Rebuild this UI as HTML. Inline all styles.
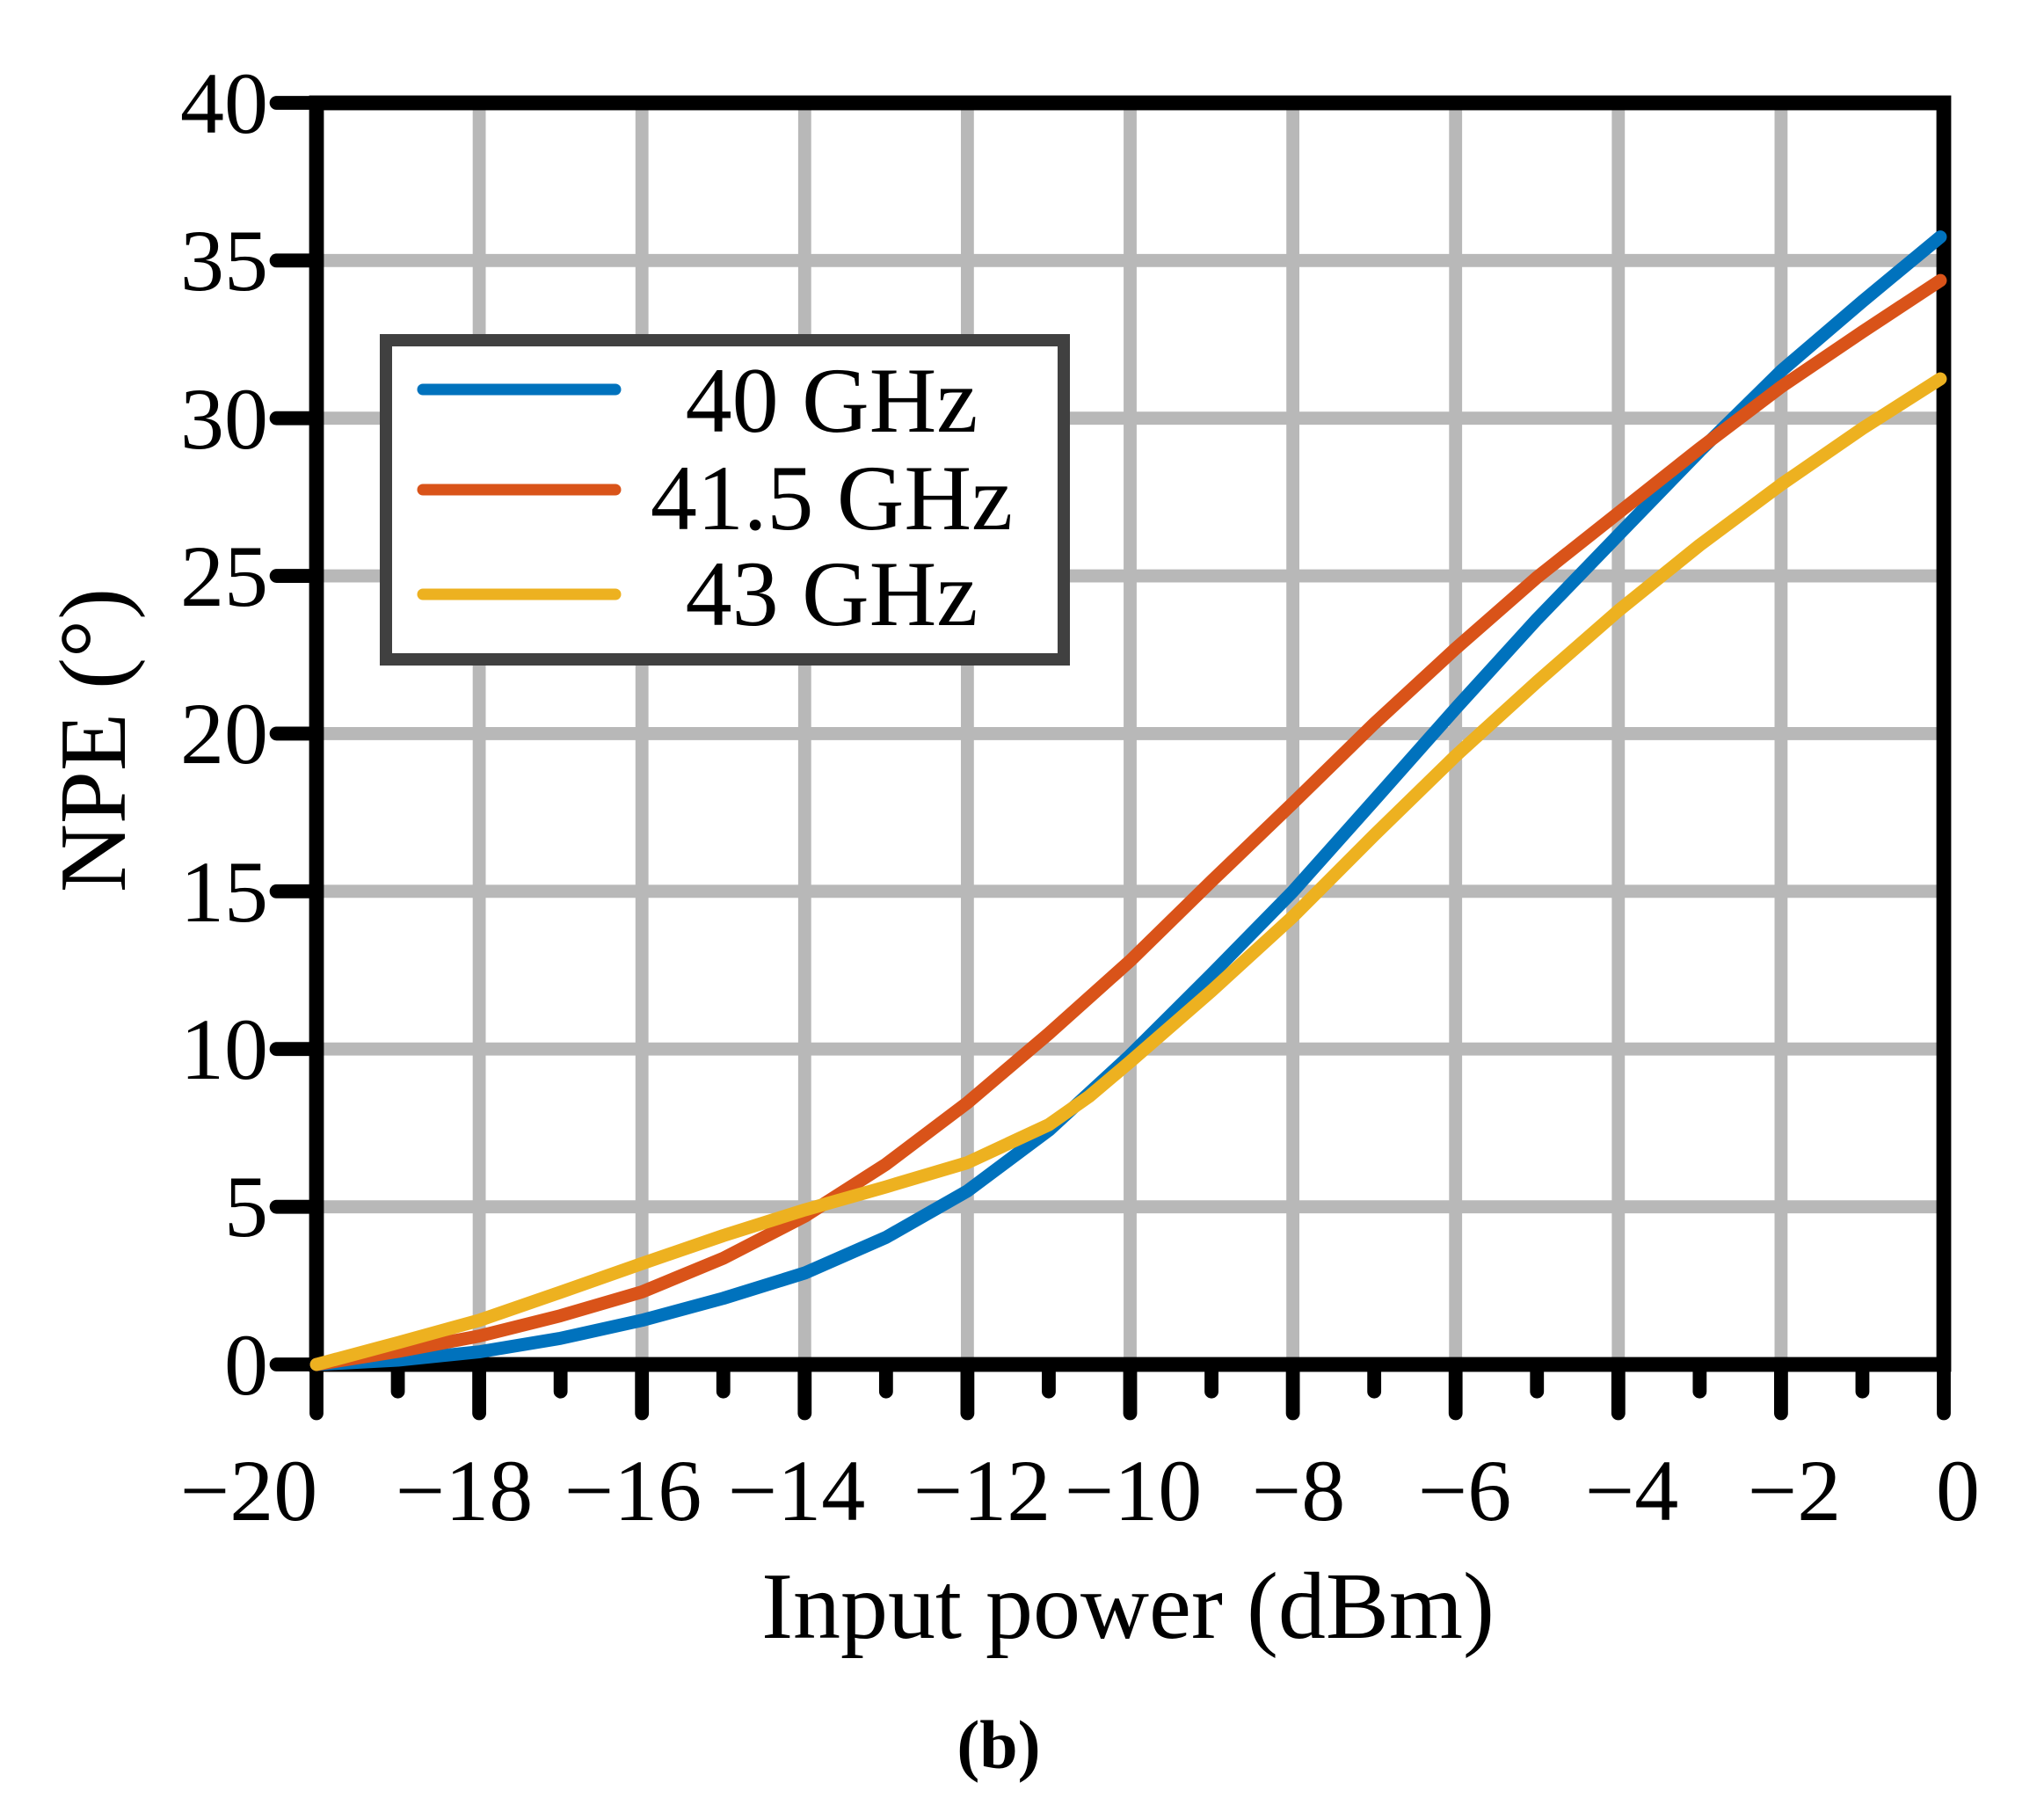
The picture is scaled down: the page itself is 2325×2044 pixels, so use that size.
<!DOCTYPE html>
<html><head><meta charset="utf-8"><style>
html,body{margin:0;padding:0;background:#fff;}
svg{display:block;}
text{font-family:"Liberation Serif",serif;fill:#000;}
</style></head><body>
<svg width="2325" height="2044" viewBox="0 0 2325 2044" xmlns="http://www.w3.org/2000/svg">
<g transform="translate(360,117) scale(0.98773,0.99034) translate(-360,-117)">
<g stroke="#b8b8b8" stroke-width="15">
<line x1="547.4" y1="117" x2="547.4" y2="1566"/>
<line x1="734.8" y1="117" x2="734.8" y2="1566"/>
<line x1="922.2" y1="117" x2="922.2" y2="1566"/>
<line x1="1109.6" y1="117" x2="1109.6" y2="1566"/>
<line x1="1297" y1="117" x2="1297" y2="1566"/>
<line x1="1484.4" y1="117" x2="1484.4" y2="1566"/>
<line x1="1671.8" y1="117" x2="1671.8" y2="1566"/>
<line x1="1859.2" y1="117" x2="1859.2" y2="1566"/>
<line x1="2046.6" y1="117" x2="2046.6" y2="1566"/>
<line x1="360" y1="298.1" x2="2234" y2="298.1"/>
<line x1="360" y1="479.2" x2="2234" y2="479.2"/>
<line x1="360" y1="660.3" x2="2234" y2="660.3"/>
<line x1="360" y1="841.4" x2="2234" y2="841.4"/>
<line x1="360" y1="1022.6" x2="2234" y2="1022.6"/>
<line x1="360" y1="1203.7" x2="2234" y2="1203.7"/>
<line x1="360" y1="1384.9" x2="2234" y2="1384.9"/>
</g>
<g stroke="#000" stroke-width="16" stroke-linecap="round">
<line x1="314" y1="117" x2="360" y2="117"/>
<line x1="314" y1="298.1" x2="360" y2="298.1"/>
<line x1="314" y1="479.2" x2="360" y2="479.2"/>
<line x1="314" y1="660.3" x2="360" y2="660.3"/>
<line x1="314" y1="841.4" x2="360" y2="841.4"/>
<line x1="314" y1="1022.6" x2="360" y2="1022.6"/>
<line x1="314" y1="1203.7" x2="360" y2="1203.7"/>
<line x1="314" y1="1384.9" x2="360" y2="1384.9"/>
<line x1="314" y1="1566" x2="360" y2="1566"/>
<line x1="360" y1="1566" x2="360" y2="1622"/>
<line x1="547.4" y1="1566" x2="547.4" y2="1622"/>
<line x1="734.8" y1="1566" x2="734.8" y2="1622"/>
<line x1="922.2" y1="1566" x2="922.2" y2="1622"/>
<line x1="1109.6" y1="1566" x2="1109.6" y2="1622"/>
<line x1="1297" y1="1566" x2="1297" y2="1622"/>
<line x1="1484.4" y1="1566" x2="1484.4" y2="1622"/>
<line x1="1671.8" y1="1566" x2="1671.8" y2="1622"/>
<line x1="1859.2" y1="1566" x2="1859.2" y2="1622"/>
<line x1="2046.6" y1="1566" x2="2046.6" y2="1622"/>
<line x1="2234" y1="1566" x2="2234" y2="1622"/>
<line x1="453.7" y1="1566" x2="453.7" y2="1597"/>
<line x1="641.1" y1="1566" x2="641.1" y2="1597"/>
<line x1="828.5" y1="1566" x2="828.5" y2="1597"/>
<line x1="1015.9" y1="1566" x2="1015.9" y2="1597"/>
<line x1="1203.3" y1="1566" x2="1203.3" y2="1597"/>
<line x1="1390.7" y1="1566" x2="1390.7" y2="1597"/>
<line x1="1578.1" y1="1566" x2="1578.1" y2="1597"/>
<line x1="1765.5" y1="1566" x2="1765.5" y2="1597"/>
<line x1="1952.9" y1="1566" x2="1952.9" y2="1597"/>
<line x1="2140.3" y1="1566" x2="2140.3" y2="1597"/>
</g>
<rect x="360" y="117" width="1874" height="1449" fill="none" stroke="#000" stroke-width="17"/>
<g fill="none" stroke-width="15" stroke-linecap="round" stroke-linejoin="round">
<polyline stroke="#0072bd" points="360,1566 453.7,1561 547.4,1551.5 641.1,1536 734.8,1515.3 828.5,1490 922.2,1461 1015.9,1420 1109.6,1366.8 1203.3,1297 1297,1211 1390.7,1118 1484.4,1022.7 1578.1,918 1671.8,812.6 1765.5,710 1859.2,613.4 1952.9,517 2046.6,425 2140.3,345 2230,271"/>
<polyline stroke="#d95319" points="360,1566 453.7,1551 547.4,1533.4 641.1,1510 734.8,1482.7 828.5,1444 922.2,1395.8 1015.9,1336 1109.6,1265.4 1203.3,1186 1297,1102.4 1390.7,1011 1484.4,921.3 1578.1,830 1671.8,743.8 1765.5,662 1859.2,588 1952.9,514 2046.6,443.2 2140.3,380 2230,321"/>
<polyline stroke="#edb120" points="360,1566 453.7,1541 547.4,1515.3 641.1,1483 734.8,1450.1 828.5,1418 922.2,1388.5 1015.9,1362 1109.6,1334.2 1203.3,1290.7 1250,1258 1297,1218.3 1390.7,1137 1484.4,1051.7 1578.1,958 1671.8,867 1765.5,782 1859.2,700.3 1952.9,625 2046.6,555.4 2140.3,491 2230,434"/>
</g>
</g>
<rect x="439" y="387" width="771" height="363" fill="#fff" stroke="#404040" stroke-width="14"/>
<g stroke-width="13" stroke-linecap="round">
<line x1="481" y1="443" x2="700" y2="443" stroke="#0072bd"/>
<line x1="481" y1="557" x2="700" y2="557" stroke="#d95319"/>
<line x1="481" y1="676" x2="700" y2="676" stroke="#edb120"/>
</g>
<g font-size="106" text-anchor="middle">
<text x="946" y="491">40 GHz</text>
<text x="946" y="602">41.5 GHz</text>
<text x="946" y="711">43 GHz</text>
</g>
<g font-size="100" text-anchor="end">
<text x="305" y="151">40</text>
<text x="305" y="330">35</text>
<text x="305" y="510">30</text>
<text x="305" y="689">25</text>
<text x="305" y="868">20</text>
<text x="305" y="1048">15</text>
<text x="305" y="1227">10</text>
<text x="305" y="1406">5</text>
<text x="305" y="1586">0</text>
</g>
<g font-size="100" text-anchor="middle">
<text x="283" y="1729">−20</text>
<text x="528" y="1729">−18</text>
<text x="720" y="1729">−16</text>
<text x="906" y="1729">−14</text>
<text x="1117" y="1729">−12</text>
<text x="1289" y="1729">−10</text>
<text x="1477" y="1729">−8</text>
<text x="1666" y="1729">−6</text>
<text x="1856" y="1729">−4</text>
<text x="2041" y="1729">−2</text>
<text x="2227" y="1729">0</text>
</g>
<text x="1283" y="1863" font-size="108" text-anchor="middle">Input power (dBm)</text>
<text transform="translate(142,842) rotate(-90)" font-size="108" text-anchor="middle">NPE (°)</text>
<text x="1136" y="2011" font-size="78" font-weight="bold" text-anchor="middle">(b)</text>
</svg>
</body></html>
